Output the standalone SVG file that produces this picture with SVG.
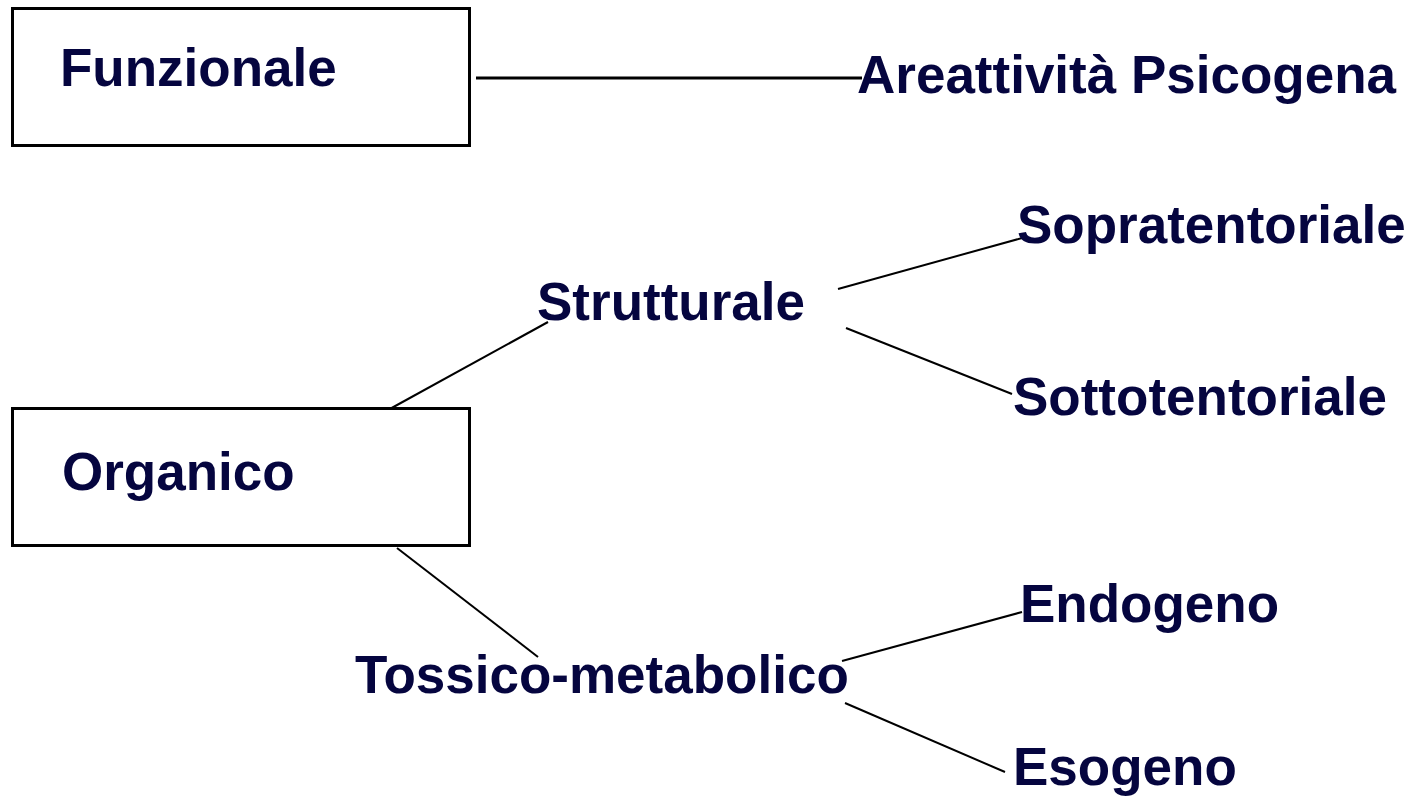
<svg xmlns="http://www.w3.org/2000/svg" width="1413" height="797" viewBox="0 0 1413 797">
<style>
.box{fill:#fff;stroke:#000;stroke-width:3}
.t{font-family:"Liberation Sans",Arial,sans-serif;font-weight:bold;font-size:53px;fill:#05053f}
.c{stroke:#000;stroke-width:2;fill:none}
</style>
<rect width="1413" height="797" fill="#fff"/>
<g id="connectors">
<line class="c" x1="476" y1="78" x2="862" y2="78" style="stroke-width:3"/>
<line class="c" x1="388" y1="410" x2="548" y2="322"/>
<line class="c" x1="838" y1="289" x2="1022" y2="238"/>
<line class="c" x1="846" y1="328" x2="1012" y2="394"/>
<line class="c" x1="397" y1="548" x2="538" y2="657"/>
<line class="c" x1="842" y1="661" x2="1022" y2="612"/>
<line class="c" x1="845" y1="703" x2="1005" y2="772"/>
</g>
<g id="funzionale"><rect class="box" x="12.5" y="8.5" width="457" height="137"/><text class="t" x="60" y="86">Funzionale</text></g>
<g id="areattivita"><text class="t" x="857" y="93">Areattività Psicogena</text></g>
<g id="organico"><rect class="box" x="12.5" y="408.5" width="457" height="137"/><text class="t" x="62" y="490">Organico</text></g>
<g id="strutturale"><text class="t" x="537" y="320">Strutturale</text></g>
<g id="sopratentoriale"><text class="t" x="1017" y="243">Sopratentoriale</text></g>
<g id="sottotentoriale"><text class="t" x="1013" y="415">Sottotentoriale</text></g>
<g id="tossico"><text class="t" x="355" y="693">Tossico-metabolico</text></g>
<g id="endogeno"><text class="t" x="1020" y="622">Endogeno</text></g>
<g id="esogeno"><text class="t" x="1013" y="785">Esogeno</text></g>
</svg>
